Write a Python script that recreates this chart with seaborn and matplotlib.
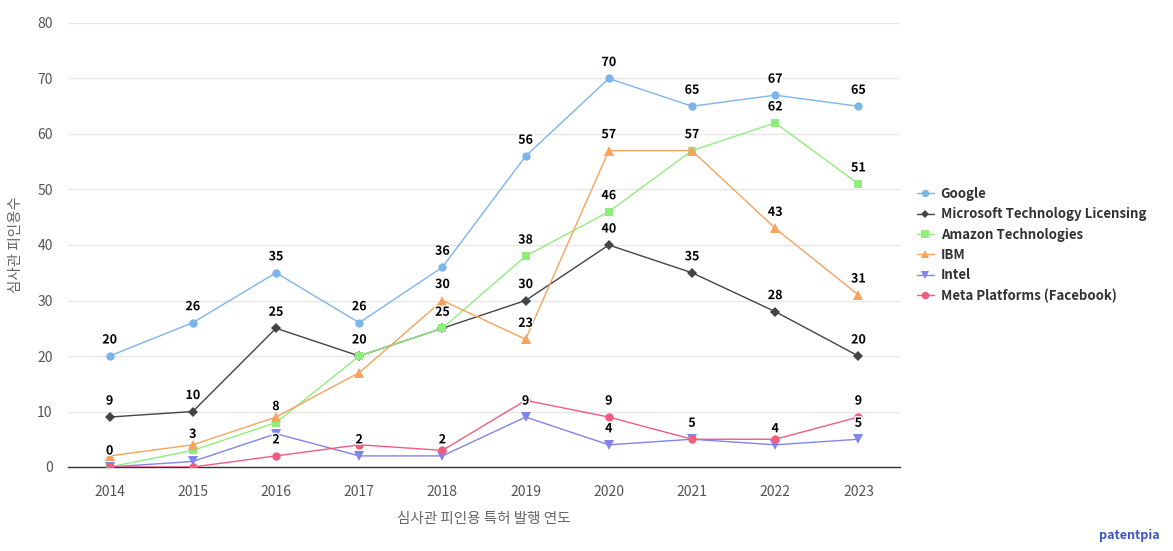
import numpy as np
import pandas as pd
import matplotlib
matplotlib.use("Agg")
import matplotlib.pyplot as plt
import matplotlib.patheffects as pe
from matplotlib.lines import Line2D
import seaborn as sns

years = [2014, 2015, 2016, 2017, 2018, 2019, 2020, 2021, 2022, 2023]
series_names = ["Google", "Microsoft Technology Licensing", "Amazon Technologies",
                "IBM", "Intel", "Meta Platforms (Facebook)"]
google = [20, 26, 35, 26, 36, 56, 70, 65, 67, 65]
microsoft = [9, 10, 25, 20, 25, 30, 40, 35, 28, 20]
amazon = [0, 3, 8, 20, 25, 38, 46, 57, 62, 51]
ibm = [2, 4, 9, 17, 30, 23, 57, 57, 43, 31]
intel = [0, 1, 6, 2, 2, 9, 4, 5, 4, 5]
meta = [0, 0, 2, 4, 3, 12, 9, 5, 5, 9]
y_ticks = [0, 10, 20, 30, 40, 50, 60, 70, 80]
x_title = "심사관 피인용 특허 발행 연도"
y_title = "심사관 피인용수"

values = [google, microsoft, amazon, ibm, intel, meta]
colors = ["#7cb5ec", "#434348", "#90ed7d", "#f7a35c", "#8085e9", "#f15c80"]
markers = ["o", "D", "s", "^", "v", "o"]
msizes = [6, 5, 6, 6.5, 6.5, 6]

rows = []
for name, vals in zip(series_names, values):
    for i, (yr, v) in enumerate(zip(years, vals)):
        rows.append({"pos": i, "year": str(yr), "series": name, "value": v})
df = pd.DataFrame(rows)

sns.set_theme(style="white")
plt.rcParams["font.family"] = ["Noto Sans CJK KR", "DejaVu Sans"]

W, H = 1173, 551
fig = plt.figure(figsize=(W / 100, H / 100), dpi=100)
ax = fig.add_axes([68 / W, 1 - 467 / H, (900 - 68) / W, (467 - 23) / H])

for name, c, m, ms in zip(series_names, colors, markers, msizes):
    sub = df[df["series"] == name]
    sns.lineplot(data=sub, x="pos", y="value", ax=ax, color=c, linewidth=1,
                 marker=m, markersize=ms, markeredgewidth=0, legend=False, zorder=3)

ax.set_xlim(-0.5, len(years) - 0.5)
ax.set_ylim(0, 80)
ax.set_yticks(y_ticks)
ax.set_yticklabels([str(t) for t in y_ticks], fontsize=10, color="#555555")
ax.set_xticks(range(len(years)))
ax.set_xticklabels([str(y) for y in years], fontsize=10, color="#555555")
ax.tick_params(axis="x", length=0, pad=13)
ax.tick_params(axis="y", length=0, pad=11)
ax.grid(axis="y", color="#e6e6e6", linewidth=1)
ax.grid(axis="x", visible=False)
for s in ["top", "right", "left"]:
    ax.spines[s].set_visible(False)
ax.spines["bottom"].set_color("#333333")
ax.spines["bottom"].set_linewidth(1)
ax.set_xlabel(x_title, fontsize=10.5, color="#666666", labelpad=9)
ax.set_ylabel(y_title, fontsize=10.5, color="#666666")
ax.yaxis.set_label_coords((23 - 68) / (900 - 68), 0.5)

# data labels with overlap hiding (greedy, series order)
fig.canvas.draw()
shown = {}
for si, vals in enumerate(values):
    for i, v in enumerate(vals):
        px = ax.transData.transform((i, v))
        ok = True
        for (pi, py) in shown.get(i, []):
            if abs(py - px[1]) < 20:
                ok = False
                break
        if ok:
            shown.setdefault(i, []).append((i, px[1]))
            ax.annotate(str(v), (i, v), xytext=(0, 11.5), textcoords="offset points",
                        ha="center", va="center", fontsize=9, fontweight="bold",
                        color="#000000", zorder=5,
                        path_effects=[pe.withStroke(linewidth=2, foreground="white")])

handles = [Line2D([0], [0], color=c, marker=m, markersize=ms * 0.9, markeredgewidth=0, linewidth=1)
           for c, m, ms in zip(colors, markers, msizes)]
leg = fig.legend(handles, series_names, loc="upper left", bbox_to_anchor=(905 / W, 1 - 175 / H),
                 frameon=False, handlelength=1.3, handletextpad=0.5, labelspacing=0.48,
                 prop={"size": 9.5, "weight": "bold"})
for t in leg.get_texts():
    t.set_color("#333333")

fig.text(1160 / W, 1 - 535 / H, "patentpia", ha="right", va="center", fontsize=9,
         fontweight="bold", color="#3a55c8")

fig.savefig("out.png", dpi=100)
